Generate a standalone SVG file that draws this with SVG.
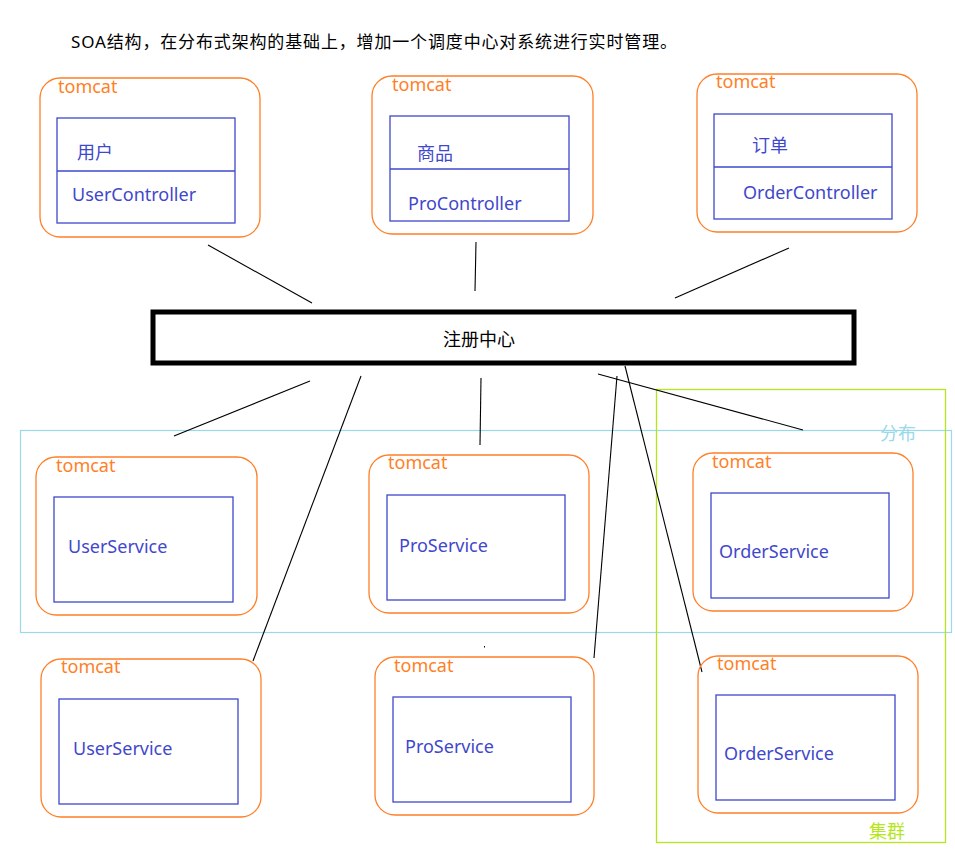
<svg xmlns="http://www.w3.org/2000/svg" width="955" height="855" viewBox="0 0 955 855">
<style>
text{font-family:"Noto Sans","Noto Sans CJK SC",sans-serif;}
.tc{fill:none;stroke:#FF7F27;stroke-width:1.3;}
.tt{fill:#FF7F27;font-size:18px;}
.bx{fill:none;stroke:#3F48CC;stroke-width:1.3;}
.bt{fill:#3F48CC;font-size:18px;}
.ln{stroke:#000;stroke-width:1.1;fill:none;}
</style>
<rect width="955" height="855" fill="#fff"/>
<text x="71" y="48" font-size="17" fill="#000" textLength="606">SOA结构，在分布式架构的基础上，增加一个调度中心对系统进行实时管理。</text>

<g id="groups">
<rect x="20.5" y="430.5" width="931" height="202" fill="none" stroke="#99D9EA" stroke-width="1.2"/>
<text x="880" y="440" font-size="18" fill="#99D9EA">分布</text>
<rect x="656.5" y="389.5" width="289" height="453" fill="none" stroke="#B5E61D" stroke-width="1.3"/>
<text x="869" y="838" font-size="18" fill="#B5E61D">集群</text>
</g>

<g id="connectors">
<line class="ln" x1="208" y1="245" x2="312" y2="303"/>
<line class="ln" x1="476" y1="242" x2="475" y2="291"/>
<line class="ln" x1="789" y1="248" x2="675" y2="298"/>
<line class="ln" x1="310" y1="381" x2="174" y2="436"/>
<line class="ln" x1="361" y1="376" x2="253" y2="661"/>
<line class="ln" x1="481" y1="378" x2="480" y2="445"/>
<line class="ln" x1="617" y1="376" x2="594" y2="658"/>
<line class="ln" x1="625" y1="366" x2="702" y2="672"/>
<line class="ln" x1="598" y1="374" x2="803" y2="430"/>
<rect x="484" y="646" width="1" height="1.5" fill="#000"/>
</g>

<g id="registry">
<rect x="153" y="312" width="701" height="51" fill="#fff" stroke="#000" stroke-width="5"/>
<text x="479" y="346" font-size="18" fill="#000" text-anchor="middle">注册中心</text>
</g>

<g id="user-controller">
<rect class="tc" x="40" y="78" width="220" height="159" rx="20"/>
<text class="tt" x="58" y="93">tomcat</text>
<rect class="bx" x="57" y="118" width="178" height="105"/>
<line class="bx" x1="57" y1="171" x2="235" y2="171"/>
<text class="bt" x="77" y="159">用户</text>
<text class="bt" x="72" y="201">UserController</text>
</g>

<g id="pro-controller">
<rect class="tc" x="372" y="76" width="221" height="158" rx="20"/>
<text class="tt" x="392" y="91">tomcat</text>
<rect class="bx" x="390" y="116" width="179" height="105"/>
<line class="bx" x1="390" y1="169" x2="569" y2="169"/>
<text class="bt" x="417" y="160">商品</text>
<text class="bt" x="408" y="210">ProController</text>
</g>

<g id="order-controller">
<rect class="tc" x="697" y="74" width="220" height="158" rx="20"/>
<text class="tt" x="716" y="88">tomcat</text>
<rect class="bx" x="714" y="114" width="178" height="105"/>
<line class="bx" x1="714" y1="167" x2="892" y2="167"/>
<text class="bt" x="752" y="152">订单</text>
<text class="bt" x="743" y="199">OrderController</text>
</g>

<g id="user-service-1">
<rect class="tc" x="36" y="457" width="221" height="158" rx="20"/>
<text class="tt" x="56" y="472">tomcat</text>
<rect class="bx" x="54" y="497" width="179" height="105"/>
<text class="bt" x="68" y="553">UserService</text>
</g>

<g id="pro-service-1">
<rect class="tc" x="369" y="455" width="220" height="158" rx="20"/>
<text class="tt" x="388" y="469">tomcat</text>
<rect class="bx" x="387" y="495" width="178" height="105"/>
<text class="bt" x="399" y="552">ProService</text>
</g>

<g id="order-service-1">
<rect class="tc" x="693" y="453" width="220" height="158" rx="20"/>
<text class="tt" x="712" y="468">tomcat</text>
<rect class="bx" x="711" y="493" width="178" height="105"/>
<text class="bt" x="719" y="558">OrderService</text>
</g>

<g id="user-service-2">
<rect class="tc" x="41" y="659" width="220" height="158" rx="20"/>
<text class="tt" x="61" y="673">tomcat</text>
<rect class="bx" x="59" y="699" width="179" height="105"/>
<text class="bt" x="73" y="755">UserService</text>
</g>

<g id="pro-service-2">
<rect class="tc" x="375" y="657" width="219" height="158" rx="20"/>
<text class="tt" x="394" y="672">tomcat</text>
<rect class="bx" x="393" y="697" width="178" height="105"/>
<text class="bt" x="405" y="753">ProService</text>
</g>

<g id="order-service-2">
<rect class="tc" x="698" y="656" width="220" height="157" rx="20"/>
<text class="tt" x="717" y="670">tomcat</text>
<rect class="bx" x="716" y="695" width="179" height="105"/>
<text class="bt" x="724" y="760">OrderService</text>
</g>
</svg>
